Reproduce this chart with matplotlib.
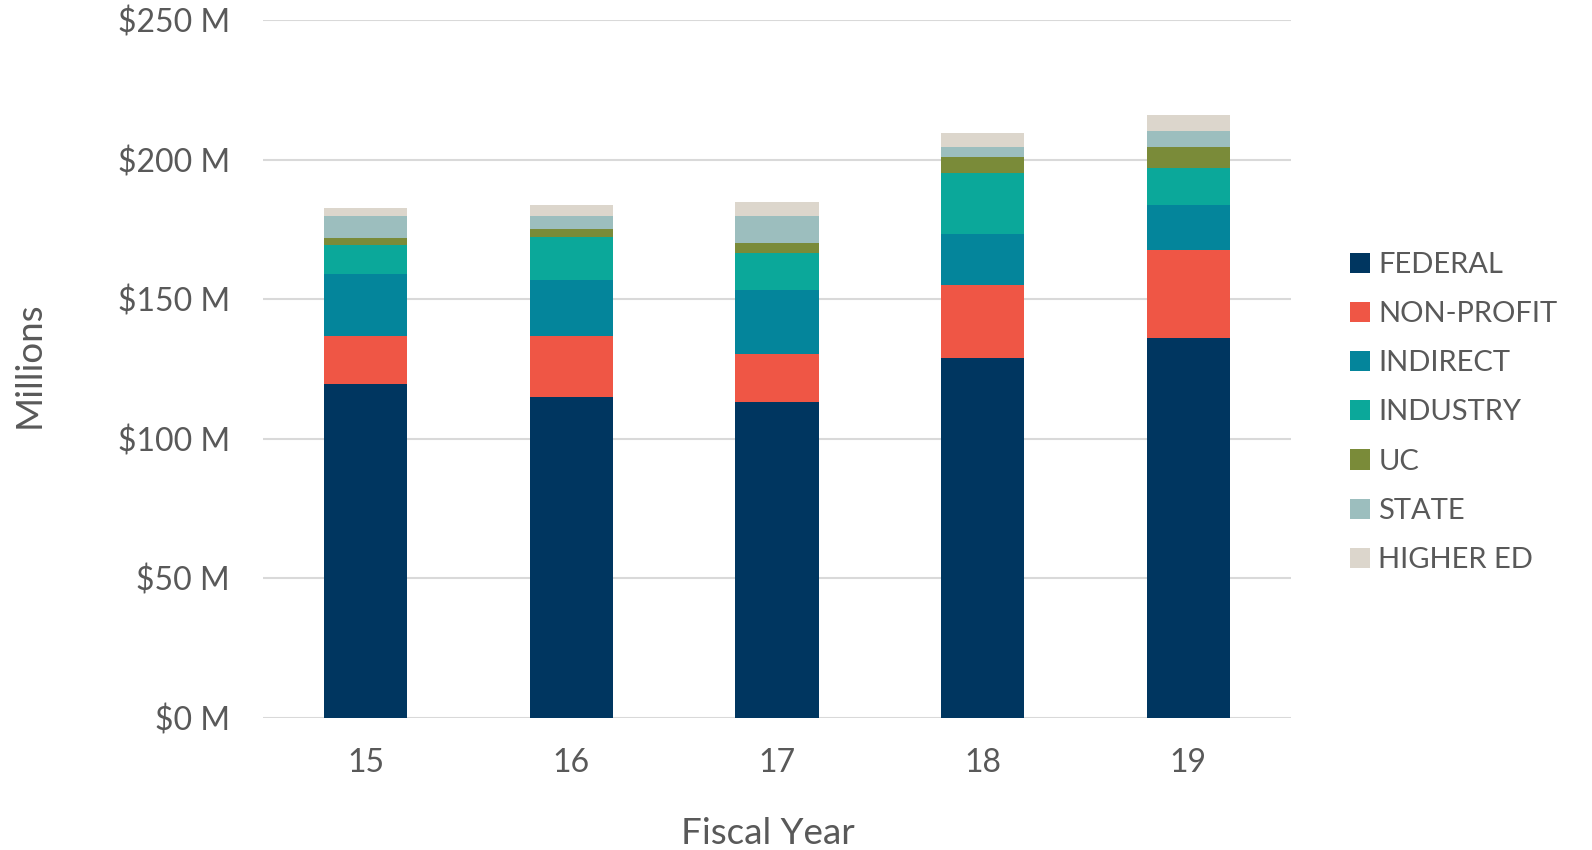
import matplotlib
matplotlib.use("Agg")
import matplotlib.pyplot as plt
import numpy as np

years = ["15", "16", "17", "18", "19"]
series_names = ["FEDERAL", "NON-PROFIT", "INDIRECT", "INDUSTRY", "UC", "STATE", "HIGHER ED"]
federal    = [119.7, 114.8, 113.0, 129.0, 135.9]
non_profit = [17.2, 22.1, 17.2, 26.0, 31.6]
indirect   = [22.0, 20.0, 22.9, 18.2, 16.1]
industry   = [10.4, 15.2, 13.3, 21.9, 13.5]
uc         = [2.7, 2.9, 3.8, 5.7, 7.5]
state      = [7.8, 4.9, 9.7, 3.8, 5.7]
higher_ed  = [2.8, 3.8, 4.8, 4.9, 5.8]
series_values = [federal, non_profit, indirect, industry, uc, state, higher_ed]
colors = ["#003660", "#EF5645", "#04859B", "#0BA89A", "#7A8B39", "#9CBEBE", "#DCD6CC"]
yticks = [0, 50, 100, 150, 200, 250]
ytick_labels = ["$0 M", "$50 M", "$100 M", "$150 M", "$200 M", "$250 M"]

plt.rcParams['font.family'] = ['Lato', 'DejaVu Sans']
text_color = "#595959"

fig = plt.figure(figsize=(15.92, 8.5), dpi=100)
ax = fig.add_axes([263/1592, 1-717.7/850, (1291-263)/1592, (717.7-20)/850])

x = np.arange(len(years))
bottom = np.zeros(len(years))
for name, vals, c in zip(series_names, series_values, colors):
    ax.bar(x, vals, width=0.404, bottom=bottom, color=c, label=name, zorder=3)
    bottom += np.array(vals)

ax.set_xlim(-0.5, len(years) - 0.5)
ax.set_ylim(0, 250)
ax.set_yticks(yticks)
ax.set_yticklabels(ytick_labels)
ax.set_xticks(x)
ax.set_xticklabels(years)
ax.yaxis.grid(True, color="#D9D9D9", linewidth=1.5, zorder=0)
ax.set_axisbelow(True)
for s in ax.spines.values():
    s.set_visible(False)
ax.tick_params(axis='both', length=0, colors=text_color, labelsize=23)
ax.tick_params(axis='y', pad=24)
ax.tick_params(axis='x', pad=22)

fig.text(28.8/1592, 1-365/850, "Millions", rotation=90, ha='center', va='center',
         fontsize=26.5, color=text_color)
fig.text(768/1592, 1-833/850, "Fiscal Year", ha='center', va='center',
         fontsize=26.5, color=text_color)

leg = ax.legend(loc='center left', bbox_to_anchor=(1350/1592, 1-412.5/850),
                bbox_transform=fig.transFigure, frameon=False, fontsize=21,
                handlelength=0.685, handleheight=0.685, handletextpad=0.28,
                labelspacing=0.795, borderaxespad=0, borderpad=0)
for t in leg.get_texts():
    t.set_color(text_color)

fig.savefig("out.png", dpi=100)
